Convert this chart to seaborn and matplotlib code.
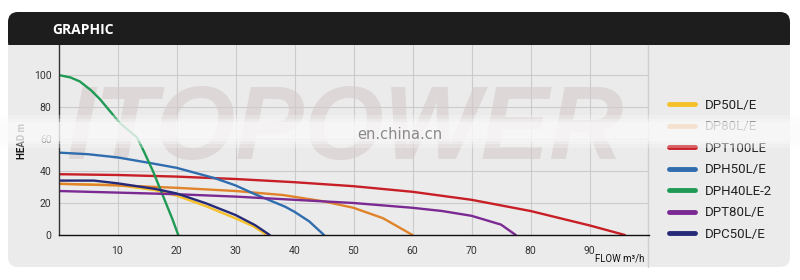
import matplotlib
matplotlib.use("Agg")
import matplotlib.pyplot as plt
import seaborn as sns
import pandas as pd
from matplotlib.patches import Rectangle, FancyBboxPatch

# ---------------- data ----------------
models = ["DP50L/E", "DP80L/E", "DPT100LE", "DPH50L/E", "DPH40LE-2", "DPT80L/E", "DPC50L/E"]

dp50_flow = [0, 10, 16.4, 20, 25, 30, 33, 35.3]
dp50_head = [32, 31.2, 28, 24.6, 18, 10.4, 5.5, 0]

dp80_flow = [0, 10, 20, 30, 38, 45, 50, 55, 60]
dp80_head = [32, 31, 29.5, 27.5, 25, 21, 17, 10.5, 0]

dpt100_flow = [0, 10, 20, 30, 40, 50, 60, 70, 80, 90, 96]
dpt100_head = [38, 37.5, 36.5, 35, 33, 30.5, 27, 22, 15, 6, 0]

dph50_flow = [0, 5, 10, 15.5, 20, 26.5, 30, 33.3, 38.4, 40, 42.5, 45]
dph50_head = [51.5, 50.5, 48.5, 45, 42, 35.5, 31, 25.5, 17.7, 14.5, 8.5, 0]

dph40_flow = [0, 2, 3.6, 5.5, 7, 10.4, 13.3, 14.5, 16, 18.2, 19.3, 20.3]
dph40_head = [100, 98.5, 96, 90.5, 85, 70, 61, 52, 40, 20, 10, 0]

dpt80_flow = [0, 10, 20, 30, 40, 50, 60, 65, 70, 75, 77.5]
dpt80_head = [27.5, 26.5, 25.5, 24, 22, 20, 17, 15, 12, 6.5, 0]

dpc50_flow = [0, 6, 10, 16.4, 20, 25, 30, 33.3, 35.8]
dpc50_head = [34, 34, 32.3, 28.8, 26, 19.8, 12.5, 6.2, 0]

colors = ["#f5c02a", "#e0832a", "#c81e26", "#2f6daf", "#1f9a55", "#7a2a92", "#272a78"]

x_ticks = [10, 20, 30, 40, 50, 60, 70, 80, 90]
y_ticks = [0, 20, 40, 60, 80, 100]

series = [
    (dp50_flow, dp50_head), (dp80_flow, dp80_head), (dpt100_flow, dpt100_head),
    (dph50_flow, dph50_head), (dph40_flow, dph40_head), (dpt80_flow, dpt80_head),
    (dpc50_flow, dpc50_head),
]
rows = []
for name, (fl, hd) in zip(models, series):
    for f, h in zip(fl, hd):
        rows.append({"model": name, "flow": f, "head": h})
df = pd.DataFrame(rows)

# ---------------- figure ----------------
sns.set_theme(style="white")
plt.rcParams["font.family"] = ["Roboto", "DejaVu Sans"]

W, H = 800, 280
fig = plt.figure(figsize=(8, 2.8), dpi=100)
fig.patch.set_facecolor("white")

def fx(px):
    return px / W

def fy(py):
    return 1 - py / H

# background panel
bg = fig.add_axes([0, 0, 1, 1], zorder=-5)
bg.set_xlim(0, W)
bg.set_ylim(H, 0)
bg.axis("off")
bg.add_patch(FancyBboxPatch((8, 12), 782, 255, boxstyle="round,pad=0,rounding_size=10",
                            fc="#ebebeb", ec="none"))
bg.add_patch(FancyBboxPatch((8, 12), 782, 40, boxstyle="round,pad=0,rounding_size=10",
                            fc="#1d1d1d", ec="none"))
bg.add_patch(Rectangle((8, 45), 782, 12, fc="#ebebeb", ec="none"))
bg.plot([648, 648], [45, 267], color="#cfcfcf", lw=1)
bg.text(52, 29.5, "GRAPHIC", color="white", fontsize=10, fontweight="bold",
        family=["Open Sans", "DejaVu Sans"], va="center", ha="left")

# plot axes
ax = fig.add_axes([fx(58.5), fy(235), fx(648.5) - fx(58.5), fy(45) - fy(235)])
ax.set_facecolor("none")

sns.lineplot(data=df, x="flow", y="head", hue="model", hue_order=models,
             palette=colors, sort=False, estimator=None, lw=1.7, ax=ax,
             legend=True)

ax.set_xlim(0, 100)
ax.set_ylim(0, 118.75)
ax.set_xticks(x_ticks)
ax.set_yticks(y_ticks)
ax.grid(True, color="#cbcbcb", lw=0.8)
ax.set_axisbelow(True)
for s in ["top", "right"]:
    ax.spines[s].set_visible(False)
ax.spines["left"].set_color("#333333")
ax.spines["left"].set_linewidth(1.0)
ax.spines["bottom"].set_color("#111111")
ax.spines["bottom"].set_linewidth(1.0)
ax.tick_params(axis="both", length=3, width=0.8, color="#333333", labelsize=7.5,
               labelcolor="#333333", pad=2)
ax.tick_params(axis="x", pad=5)
ax.set_xlabel("")
ax.set_ylabel("")

# axis titles
fig.text(fx(620), fy(259), "FLOW m\u00b3/h", fontsize=7, color="#111111", ha="center", va="center")
fig.text(fx(22), fy(159), "HEAD m", fontsize=7, fontweight="bold", color="#111111",
         rotation=90, ha="center", va="bottom")

# legend
handles, labels = ax.get_legend_handles_labels()
leg = ax.legend(handles, labels, loc="upper left", bbox_to_anchor=(fx(669), fy(99)),
                bbox_transform=fig.transFigure, frameon=False, fontsize=9.5,
                handlelength=2.0, handletextpad=0.7, labelspacing=0.64,
                borderaxespad=0, borderpad=0)
for line in leg.get_lines():
    line.set_linewidth(3.5)
for t in leg.get_texts():
    t.set_color("#222222")

# watermark
ax.text(fx(345), fy(133), "ITOPOWER", transform=fig.transFigure, fontsize=74,
        fontweight="bold", style="italic", family=["Liberation Sans", "DejaVu Sans"],
        color="#d6caca", alpha=0.6, ha="center", va="center", zorder=1.5, clip_on=False)

# blurred white band of the watermark
for y0, h, a in [(115, 4, 0.3), (119, 3, 0.55), (122, 19, 0.8), (141, 3, 0.55), (144, 4, 0.3)]:
    fig.add_artist(Rectangle((0, fy(y0 + h)), 1, h / H, transform=fig.transFigure,
                             fc="#fafafa", ec="none", alpha=a, zorder=10))
fig.text(fx(400), fy(134), "en.china.cn", fontsize=10.5, color="#8a8a8a",
         family=["DejaVu Sans"], ha="center", va="center", zorder=11)

fig.savefig("out.png", dpi=100)
